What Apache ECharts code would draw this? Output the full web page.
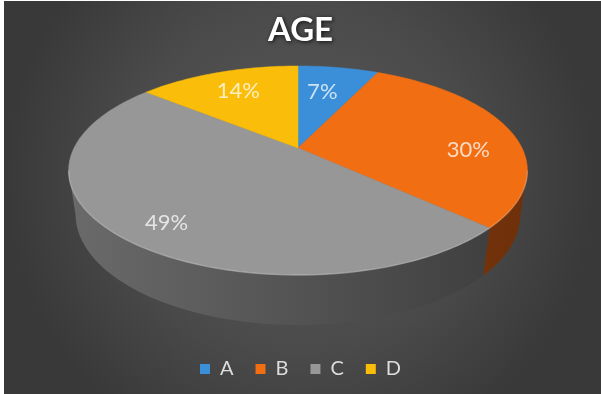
<!DOCTYPE html>
<html>
<head>
<meta charset="utf-8">
<script src="https://cdn.jsdelivr.net/npm/echarts@6/dist/echarts.min.js"></script>
<style>
  html, body { margin: 0; padding: 0; background: #ffffff; }
  #chart { width: 601px; height: 394px; }
</style>
</head>
<body>
<div id="chart"></div>
<script>
// ---- data ----
const categories = ['A', 'B', 'C', 'D'];
const values = [7, 30, 49, 14];
const titleText = 'AGE';

// ---- styles ----
const topColors = ['#3b8fd8', '#f26e12', '#979797', '#f9bd0a'];
const sideColorsL = ['#2a6aa8', '#9a440c', '#6a6a6a', '#b88a06'];
const sideColorsR = ['#1f5085', '#6e300a', '#3c3c3c', '#8a6804'];
const labelRadius = [0.66, 0.76, 0.76, 0.7];
const labelShift = [[-4, 0], [8, 16], [-3, 10], [-1, -2]];

// projection parameters (perspective view of the pie)
const PR = { cx: 298, cy: 148, R: 224, K: 99.66, P: 0.2154, Q: 0.03, M: 44.5 };
function proj(X, Z, D) {
  const w = 1 + PR.P * Z + PR.Q * D;
  return [PR.cx + PR.R * X / w, PR.cy - (PR.K * Z - PR.M * D) / w];
}
function arcPts(f0, f1, r, D) {
  const pts = [];
  const n = Math.max(2, Math.ceil((f1 - f0) * 240));
  for (let i = 0; i <= n; i++) {
    const f = f0 + (f1 - f0) * i / n;
    const a = 2 * Math.PI * f;
    pts.push(proj(r * Math.sin(a), r * Math.cos(a), D));
  }
  return pts;
}
const total = values.reduce((a, b) => a + b, 0);
const visA = Math.acos(-PR.P) / (2 * Math.PI);
const visB = 1 - visA;

function makeRender(idx) {
  return function (params, api) {
    let s = 0;
    for (let i = 0; i < idx; i++) s += values[i];
    const v = api.value(0);
    const f0 = s / total, f1 = (s + v) / total;
    const children = [];
    // side wall (visible front part)
    const a = Math.max(f0, visA), b = Math.min(f1, visB);
    if (b > a) {
      const topArc = arcPts(a, b, 1, 0);
      const botArc = arcPts(a, b, 1, 1).reverse();
      children.push({
        type: 'polygon',
        shape: { points: topArc.concat(botArc) },
        style: {
          fill: new echarts.graphic.LinearGradient(70, 0, 527, 0, [
            { offset: 0, color: sideColorsL[idx] },
            { offset: 1, color: sideColorsR[idx] }
          ], true)
        },
        z2: 1
      });
    }
    // top face
    const pts = [proj(0, 0, 0)].concat(arcPts(f0, f1, 1, 0));
    children.push({
      type: 'polygon',
      shape: { points: pts },
      style: { fill: topColors[idx], stroke: topColors[idx], lineWidth: 0.5 },
      z2: 2
    });
    // front rim highlight
    if (b > a) {
      children.push({
        type: 'polyline',
        shape: { points: arcPts(a, b, 1, 0) },
        style: { stroke: 'rgba(255,255,255,0.22)', lineWidth: 1.5, fill: null },
        z2: 3
      });
    }
    // label
    const fm = (f0 + f1) / 2, am = 2 * Math.PI * fm, lr = labelRadius[idx];
    const lp = proj(lr * Math.sin(am), lr * Math.cos(am), 0);
    children.push({
      type: 'text',
      style: {
        text: Math.round(v / total * 100) + '%',
        x: lp[0] + labelShift[idx][0], y: lp[1] + labelShift[idx][1],
        align: 'center', verticalAlign: 'middle',
        fill: 'rgba(255,255,255,0.75)',
        fontSize: 22, fontFamily: 'Lato'
      },
      z2: 4
    });
    return { type: 'group', children: children };
  };
}

const chart = echarts.init(document.getElementById('chart'), null, { renderer: 'canvas' });
chart.setOption({
  backgroundColor: {
    type: 'radial', x: 0.5, y: 0.45, r: 0.75,
    colorStops: [
      { offset: 0, color: '#5a5a5a' },
      { offset: 0.6, color: '#4a4a4a' },
      { offset: 1, color: '#393939' }
    ]
  },
  animation: false,
  title: {
    text: titleText,
    left: 'center',
    top: 9,
    textStyle: {
      color: '#ffffff', fontSize: 33, fontWeight: 'bold', fontFamily: 'Lato',
      textShadowColor: 'rgba(0,0,0,0.8)', textShadowBlur: 4, textShadowOffsetX: 1, textShadowOffsetY: 1
    }
  },
  legend: {
    data: categories,
    top: 354,
    left: 'center',
    icon: 'rect',
    itemWidth: 10,
    itemHeight: 10,
    itemGap: 22,
    textStyle: { color: '#dcdcdc', fontSize: 20, fontFamily: 'Lato', padding: [0, 0, 0, 5] }
  },
  graphic: [
    { type: 'rect', shape: { x: 0, y: 0, width: 4, height: 394 }, style: { fill: '#ffffff' }, z: 100 },
    { type: 'rect', shape: { x: 0, y: 0, width: 601, height: 1 }, style: { fill: '#ffffff' }, z: 100 }
  ],
  series: categories.map((name, i) => ({
    type: 'custom',
    name: name,
    coordinateSystem: 'none',
    itemStyle: { color: topColors[i] },
    renderItem: makeRender(i),
    data: [[values[i]]]
  }))
});
</script>
</body>
</html>
